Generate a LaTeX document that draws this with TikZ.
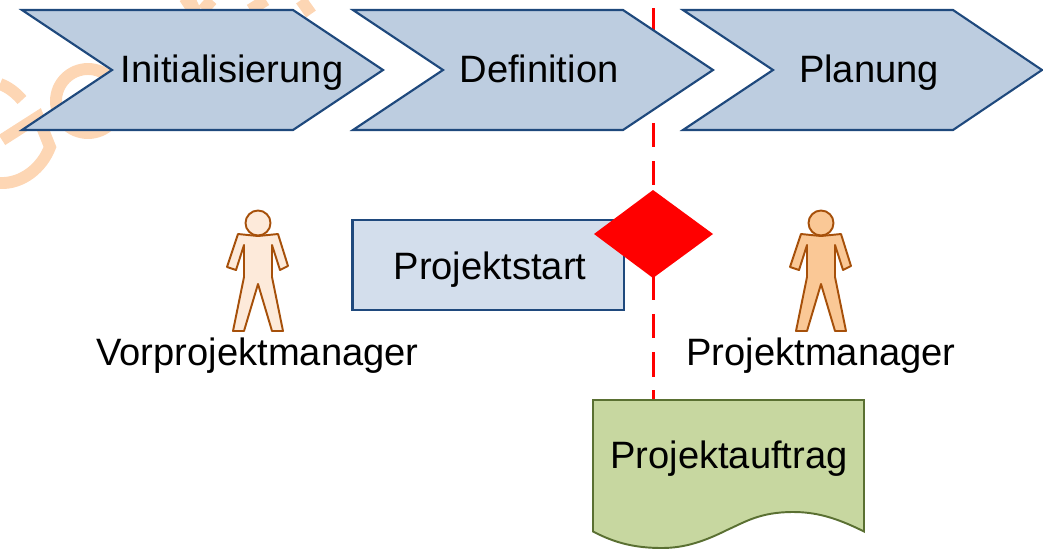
\documentclass[tikz,border=0pt]{standalone}
\usepackage{fontspec}
\setmainfont{Liberation Sans}
\usetikzlibrary{arrows}
\definecolor{chevronblue}{RGB}{189, 205, 224}
\definecolor{edgeblue}{RGB}{31, 73, 125}
\definecolor{startblue}{RGB}{211, 222, 236}
\definecolor{docgreen}{RGB}{199, 215, 160}
\definecolor{docedge}{RGB}{90, 112, 50}
\definecolor{personedge}{RGB}{166, 80, 10}
\definecolor{personpale}{RGB}{253, 234, 218}
\definecolor{personfull}{RGB}{250, 200, 150}
\definecolor{watermark}{RGB}{253, 214, 180}
\tikzset{
  phase/.style={draw=edgeblue, fill=chevronblue, line width=1.2pt, line join=miter},
  phaselabel/.style={font=\fontsize{21.7}{24}\selectfont, text=black, inner sep=0pt, anchor=base},
  person/.style={draw=personedge, line width=1.1pt, line join=round},
  watermarkline/.style={watermark, line width=6.8pt}
}
\newcommand{\drawperson}[3]{%
  \begin{scope}[shift={(#1,#2)}]
    \draw[person, fill=#3] (-20,-2) -- (0,0) -- (20,-2)
       -- (30,30) -- (22,34) -- (14,9) -- (14,41) -- (25,95) -- (14,95) -- (0,48)
       -- (-14,95) -- (-25,95) -- (-14,41) -- (-14,9) -- (-22,34) -- (-31,31) -- cycle;
    \draw[person, fill=#3] (0,-13) circle (12.5);
  \end{scope}}
\begin{document}
\begin{tikzpicture}[x=0.02cm, y=-0.02cm]
            \useasboundingbox (0,0) rectangle (1043,548);
            % Watermark
            \draw[watermarkline] (2,140) -- (38,117) -- (50,147) .. controls (42,168) and (22,184) .. (0,183);
            \draw[watermarkline] (22,100) .. controls (15,92) and (8,87) .. (0,84);
            \draw[watermarkline] (88,101) circle (32);
            \draw[watermarkline] (183,6) -- (192,0) (190,0) -- (195,11) (203,10) -- (212,0);
            \draw[watermarkline] (250,10) -- (266,0) (301,0) -- (311,14);
            % Milestone line
            \coordinate (lineTop) at (653,8);
            \coordinate (lineBottom) at (653,400);
            \draw[red, line width=1.7pt, dash pattern=on 13.9pt off 7.87pt] (lineTop) -- (lineBottom);
            % Phases
            \draw[phase] (22,10) -- (293,10) -- (383,70) -- (293,130) -- (22,130) -- (112,70) -- cycle;
            \draw[phase] (353,10) -- (623,10) -- (713,70) -- (623,130) -- (353,130) -- (443,70) -- cycle;
            \draw[phase] (683,10) -- (953,10) -- (1042,70) -- (953,130) -- (683,130) -- (773,70) -- cycle;
            \node[phaselabel] (initialisierung) at (232,82) {Initialisierung};
            \node[phaselabel] (definition) at (539,82) {Definition};
            \node[phaselabel] (planung) at (869,82) {Planung};
            % Start box and milestone
            \draw[draw=edgeblue, fill=startblue, line width=1.2pt] (352.5,220) rectangle (624,310);
            \node[phaselabel] (projektstart) at (490,279) {Projektstart};
            \fill[red] (594,234) -- (653,190) -- (713,234) -- (653,278) -- cycle;
            % Persons
            \drawperson{258}{236}{personpale}
            \drawperson{821}{236}{personfull}
            \node[phaselabel] (vorprojektmanager) at (257.5,365) {Vorprojektmanager};
            \node[phaselabel] (projektmanager) at (821,365) {Projektmanager};
            % Document
            \draw[draw=docedge, fill=docgreen, line width=1.1pt] (593,400) -- (864,400) -- (864,531.5)
              .. controls (835,517) and (815,512) .. (793,512)
              .. controls (760,512) and (745,522) .. (727,530)
              .. controls (705,541) and (685,548) .. (662,548)
              .. controls (635,548) and (615,543) .. (593,531.5) -- cycle;
            \node[phaselabel] (projektauftrag) at (729,468) {Projektauftrag};
        \end{tikzpicture}
\end{document}
